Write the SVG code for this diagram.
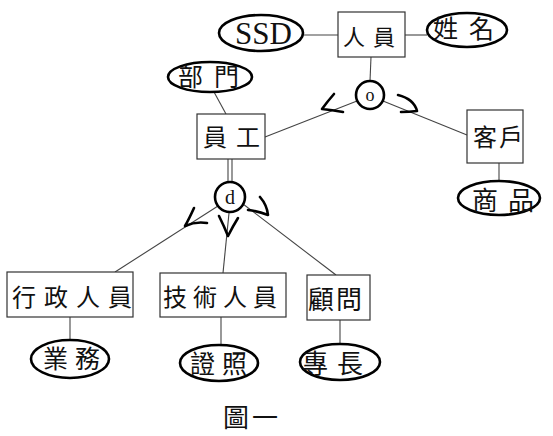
<svg xmlns="http://www.w3.org/2000/svg" width="553" height="436" viewBox="0 0 553 436">
<style>
.ent{fill:#fff;stroke:#333;stroke-width:1.2}
.att{fill:#fff;stroke:#000;stroke-width:2.6}
.t{font-family:"Liberation Serif","Noto Sans CJK TC",serif;fill:#111}
.ln{stroke:#444;stroke-width:1.1;fill:none}
.hk{stroke:#000;stroke-width:2.6;fill:none;stroke-linecap:round;stroke-linejoin:round}
.circ{fill:#fff;stroke:#000;stroke-width:2.6}
</style>
<rect width="553" height="436" fill="#fff"/>
<g id="connectors">
<line class="ln" x1="303" y1="35" x2="338" y2="35"/>
<line class="ln" x1="405" y1="35" x2="427" y2="35"/>
<line class="ln" x1="371" y1="57" x2="370" y2="81"/>
<line class="ln" x1="357" y1="101" x2="265" y2="137"/>
<line class="ln" x1="383" y1="101" x2="467" y2="135"/>
<line class="ln" x1="214" y1="92" x2="226" y2="114"/>
<line class="ln" x1="499" y1="163" x2="499" y2="181"/>
<line class="ln" x1="228" y1="159" x2="228" y2="182"/>
<line class="ln" x1="232" y1="159" x2="232" y2="182"/>
<line class="ln" x1="218" y1="206" x2="115" y2="272"/>
<line class="ln" x1="229" y1="213" x2="223" y2="273"/>
<line class="ln" x1="243" y1="204" x2="336" y2="275"/>
<line class="ln" x1="70" y1="317" x2="70" y2="340"/>
<line class="ln" x1="221" y1="317" x2="221" y2="345"/>
<line class="ln" x1="340" y1="320" x2="340" y2="345"/>
<path class="hk" d="M334,94 Q327,102 322,109 Q332,110 343,112"/>
<path class="hk" d="M398,95 Q414,99 417,111 Q409,112 401,112"/>
<path class="hk" d="M194,208 Q189,219 185,226 Q196,221 207,223"/>
<path class="hk" d="M219,216 Q224,226 228,236 Q233,226 238,218"/>
<path class="hk" d="M260,197 Q267,205 268,215 Q258,211 248,210"/>
</g>
<g id="n-person"><rect class="ent" x="338" y="12" width="67" height="45"/><text class="t" x="343" y="45" font-size="22" letter-spacing="8">人員</text></g>
<g id="a-ssd"><ellipse class="att" cx="261" cy="33" rx="42" ry="18"/><text class="t" x="235" y="44" font-size="31">SSD</text></g>
<g id="a-name"><ellipse class="att" cx="467" cy="30" rx="40" ry="17"/><text class="t" x="433" y="38" font-size="25" letter-spacing="11">姓名</text></g>
<g id="c-o"><circle class="circ" cx="370" cy="95" r="14"/><text class="t" x="370" y="101" font-size="18" text-anchor="middle">o</text></g>
<g id="n-employee"><rect class="ent" x="197" y="114" width="68" height="45"/><text class="t" x="203" y="146" font-size="24" letter-spacing="9">員工</text></g>
<g id="a-dept"><ellipse class="att" cx="210" cy="77" rx="42" ry="15"/><text class="t" x="178" y="86" font-size="25" letter-spacing="11">部門</text></g>
<g id="n-customer"><rect class="ent" x="467" y="110" width="56" height="53"/><text class="t" x="473" y="146" font-size="24" letter-spacing="2">客戶</text></g>
<g id="a-goods"><ellipse class="att" cx="499" cy="198" rx="41" ry="17"/><text class="t" x="472" y="210" font-size="26" letter-spacing="10">商品</text></g>
<g id="c-d"><circle class="circ" cx="230" cy="197" r="15"/><text class="t" x="230" y="204" font-size="20" text-anchor="middle">d</text></g>
<g id="n-admin"><rect class="ent" x="7" y="272" width="126" height="45"/><text class="t" x="12" y="306" font-size="24" letter-spacing="8">行政人員</text></g>
<g id="n-tech"><rect class="ent" x="160" y="273" width="126" height="44"/><text class="t" x="163" y="306" font-size="24" letter-spacing="6">技術人員</text></g>
<g id="n-consult"><rect class="ent" x="307" y="275" width="63" height="45"/><text class="t" x="308" y="309" font-size="26" letter-spacing="2">顧問</text></g>
<g id="a-business"><ellipse class="att" cx="70" cy="359" rx="39" ry="19"/><text class="t" x="43" y="368" font-size="25" letter-spacing="7">業務</text></g>
<g id="a-license"><ellipse class="att" cx="219" cy="363" rx="39" ry="18"/><text class="t" x="190" y="373" font-size="25" letter-spacing="7">證照</text></g>
<g id="a-skill"><ellipse class="att" cx="340" cy="362" rx="40" ry="18"/><text class="t" x="302" y="373" font-size="26" letter-spacing="9">專長</text></g>
<g id="caption"><text class="t" x="223" y="427" font-size="26" letter-spacing="3">圖一</text></g>
</svg>
